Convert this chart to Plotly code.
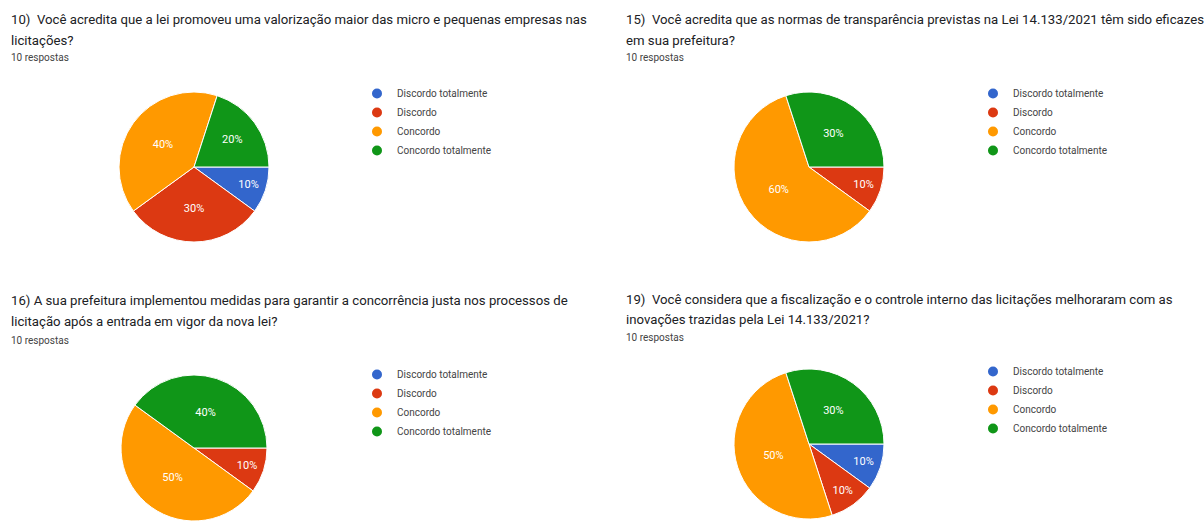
import plotly.graph_objects as go

W, H = 1204, 521

categories = ["Discordo totalmente", "Discordo", "Concordo", "Concordo totalmente"]
colors = ["#3366cc", "#dc3912", "#ff9900", "#109618"]

q10_values = [1, 3, 4, 2]
q15_values = [0, 1, 6, 3]
q16_values = [0, 1, 5, 4]
q19_values = [1, 1, 5, 3]

titles = [
    ["10)  Você acredita que a lei promoveu uma valorização maior das micro e pequenas empresas nas", "licitações?"],
    ["15)  Você acredita que as normas de transparência previstas na Lei 14.133/2021 têm sido eficazes", "em sua prefeitura?"],
    ["16) A sua prefeitura implementou medidas para garantir a concorrência justa nos processos de", "licitação após a entrada em vigor da nova lei?"],
    ["19)  Você considera que a fiscalização e o controle interno das licitações melhoraram com as", "inovações trazidas pela Lei 14.133/2021?"],
]
responses_label = "10 respostas"

# layout constants (pixels)
panels = [
    dict(vals=q10_values, cx=194, cy=167, r=75, tx=9, ty=[20, 40, 57], lx=357, ly=79),
    dict(vals=q15_values, cx=809, cy=167, r=75, tx=624, ty=[20, 40, 57], lx=973, ly=79),
    dict(vals=q16_values, cx=194, cy=448, r=73, tx=9, ty=[300, 321, 340], lx=357, ly=360),
    dict(vals=q19_values, cx=809, cy=444, r=75, tx=624, ty=[299, 319, 337], lx=973, ly=357),
]

fig = go.Figure()
annotations = []
legend_layouts = {}
for i, p in enumerate(panels):
    vals = p["vals"]
    total = sum(vals)
    texts = [f"{round(100 * v / total)}%" if v else "" for v in vals]
    fig.add_trace(go.Pie(
        labels=categories, values=vals, text=texts, texttemplate="%{text}",
        textposition="inside", insidetextorientation="horizontal",
        textfont=dict(color="white", size=11, family="Roboto"),
        marker=dict(colors=colors, line=dict(color="white", width=1)),
        sort=False, direction="clockwise", rotation=90, showlegend=False,
        hoverinfo="label+percent",
        domain=dict(x=[(p["cx"] - p["r"]) / W, (p["cx"] + p["r"]) / W],
                    y=[max(0, (H - p["cy"] - p["r"]) / H), (H - p["cy"] + p["r"]) / H]),
    ))
    lname = "legend" if i == 0 else f"legend{i + 1}"
    for c, col in zip(categories, colors):
        fig.add_trace(go.Scatter(
            x=[None], y=[None], mode="markers", name=c,
            marker=dict(color=col, size=10, symbol="circle"),
            legend=lname, showlegend=True, hoverinfo="skip",
        ))
    legend_layouts[lname] = dict(
        x=p["lx"] / W, y=1 - p["ly"] / H, xanchor="left", yanchor="top",
        font=dict(family="Roboto", size=10, color="#444444"),
        bgcolor="rgba(0,0,0,0)", borderwidth=0, itemclick=False, itemdoubleclick=False,
    )
    for j, line in enumerate(titles[i]):
        annotations.append(dict(
            text=line, x=p["tx"] / W, y=1 - p["ty"][j] / H, xref="paper", yref="paper",
            xanchor="left", yanchor="middle", showarrow=False,
            font=dict(family="Roboto", size=13.2, color="#202124"),
        ))
    annotations.append(dict(
        text=responses_label, x=p["tx"] / W, y=1 - p["ty"][2] / H, xref="paper", yref="paper",
        xanchor="left", yanchor="middle", showarrow=False,
        font=dict(family="Roboto", size=10, color="#444444"),
    ))

fig.update_layout(
    width=W, height=H, margin=dict(l=0, r=0, t=0, b=0),
    paper_bgcolor="white", plot_bgcolor="white",
    xaxis=dict(visible=False), yaxis=dict(visible=False),
    annotations=annotations, **legend_layouts,
)

fig.write_html("out.html", config={"displayModeBar": False},
               post_script="document.body.style.margin='0';")
